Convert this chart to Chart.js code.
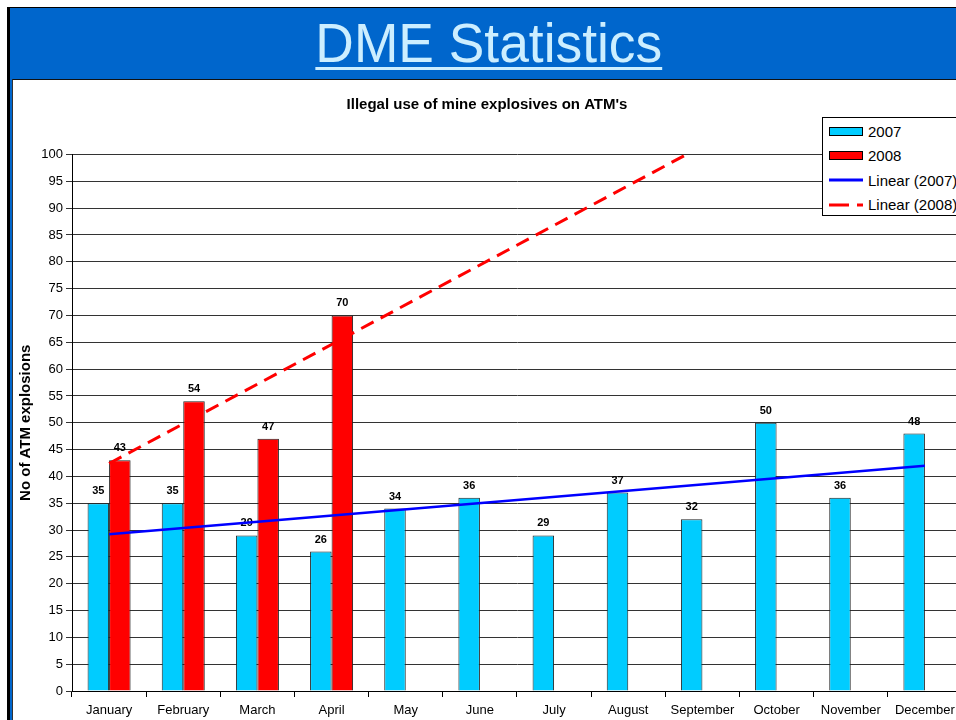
<!DOCTYPE html>
<html><head><meta charset="utf-8">
<script src="https://cdn.jsdelivr.net/npm/chart.js@4/dist/chart.umd.min.js"></script>
<style>
html,body{margin:0;padding:0;width:956px;height:720px;overflow:hidden;background:#fff;font-family:"Liberation Sans",Arial,sans-serif;}
#frame{position:absolute;left:7px;top:7px;width:960px;height:720px;background:#0066CC;border-left:3px solid #000;border-top:1px solid #000;}
#panel{position:absolute;left:12px;top:79px;width:960px;height:650px;background:#fff;border-top:1px solid #111;border-left:1px solid #333;}
#title{position:absolute;left:0;top:13px;width:978px;text-align:center;font-size:55px;color:#CCEEFF;line-height:60px;white-space:nowrap;}
#title span{display:inline-block;transform:scaleX(0.97);text-decoration:underline;text-decoration-thickness:3px;text-underline-offset:5px;}
#wrap{position:absolute;left:12px;top:82px;width:950px;height:638px;}
#legend{position:absolute;left:822px;top:117px;width:160px;height:99px;border:1px solid #000;background:#fff;padding-top:1px;box-sizing:border-box;}
.li{height:24.5px;display:flex;align-items:center;font-size:15px;color:#000;white-space:nowrap;}
.sw{width:34px;height:12px;margin-left:6px;margin-right:5px;display:flex;align-items:center;}
.box{width:32px;height:7px;border:1px solid #000;}
</style>
</head><body>
<div id="frame"></div>
<div id="panel"></div>
<div id="title"><span>DME Statistics</span></div>
<div id="wrap"><canvas id="c"></canvas></div>
<div id="legend"></div>
<script>
const months = ['January','February','March','April','May','June','July','August','September','October','November','December'];
const values2007 = [35,35,29,26,34,36,29,37,32,50,36,48];
const values2008 = [43,54,47,70,null,null,null,null,null,null,null,null];
// trend line end values (straight lines between them)
const trend2007 = [29.2,null,null,null,null,null,null,null,null,null,null,42.0];
const trend2008 = [42.4,null,null,null,null,null,null,null,101.6,null,null,null];
const yMin = 0, yMax = 100, yStep = 5;
const chartTitle = "Illegal use of mine explosives on ATM's";
const yTitle = 'No of ATM explosions';

Chart.defaults.font.family = '"Liberation Sans", Arial, sans-serif';
Chart.defaults.color = '#000';

const valueLabels = {
  id:'valueLabels',
  afterDatasetDraw(chart, args){
    const ds = chart.data.datasets[args.index];
    if (ds.type === 'line') return;
    const ctx = chart.ctx;
    ctx.save();
    ctx.font = 'bold 11px "Liberation Sans", Arial, sans-serif';
    ctx.fillStyle = '#000'; ctx.textAlign = 'center'; ctx.textBaseline = 'middle';
    args.meta.data.forEach((el,i)=>{
      const v = ds.data[i];
      if (v == null) return;
      ctx.fillText(String(v), el.x, el.y - 12);
    });
    ctx.restore();
  }
};

const datasets = [
  {type:'bar', label:'2007', data:values2007, backgroundColor:'#00CCFF', borderColor:'#222', borderWidth:1, order:2},
  {type:'bar', label:'2008', data:values2008, backgroundColor:'#FF0000', borderColor:'#222', borderWidth:1, order:2},
  {type:'line', label:'Linear (2007)', data:trend2007, spanGaps:true, borderColor:'#0000FF', borderWidth:2.5, pointRadius:0, fill:false, tension:0, order:1},
  {type:'line', label:'Linear (2008)', data:trend2008, spanGaps:true, clip:0, borderColor:'#FF0000', borderWidth:3, borderDash:[14,8], pointRadius:0, fill:false, tension:0, order:1}
];

new Chart(document.getElementById('c'), {
  type:'bar',
  data:{labels:months, datasets},
  options:{
    responsive:true, maintainAspectRatio:false, animation:false,
    layout:{padding:0},
    datasets:{bar:{categoryPercentage:0.58, barPercentage:1}},
    plugins:{
      legend:{display:false}, tooltip:{enabled:false},
      title:{display:true, text:chartTitle, font:{size:15, weight:'bold'}, color:'#000', padding:{top:14, bottom:40.5}}
    },
    scales:{
      x:{grid:{display:true, drawOnChartArea:false, drawTicks:true, tickLength:6, color:'#000', offset:true},
         border:{color:'#000'},
         ticks:{color:'#000', font:{size:13}, padding:6, maxRotation:0, autoSkip:false},
         afterFit(s){ s.height = 29; }},
      y:{min:yMin, max:yMax,
         ticks:{stepSize:yStep, color:'#000', font:{size:13}, padding:3},
         grid:{color:'#333', tickLength:6, lineWidth:1},
         border:{color:'#000', width:1},
         title:{display:true, text:yTitle, font:{size:15, weight:'bold'}, color:'#000', padding:{top:5, bottom:0}},
         afterFit(s){ s.width = 60; }}
    }
  },
  plugins:[valueLabels]
});

// HTML legend built from the datasets
const leg = document.getElementById('legend');
datasets.forEach(ds=>{
  const row = document.createElement('div'); row.className='li';
  const sw = document.createElement('div'); sw.className='sw';
  if (ds.type === 'bar') {
    const b = document.createElement('div'); b.className='box'; b.style.background = ds.backgroundColor; sw.appendChild(b);
  } else {
    const dash = ds.borderDash ? 'stroke-dasharray="20 8"' : '';
    sw.innerHTML = '<svg width="34" height="12"><line x1="0" y1="6" x2="34" y2="6" stroke="'+ds.borderColor+'" stroke-width="3" '+dash+'/></svg>';
  }
  const t = document.createElement('span'); t.textContent = ds.label;
  row.appendChild(sw); row.appendChild(t); leg.appendChild(row);
});
</script>
</body></html>
